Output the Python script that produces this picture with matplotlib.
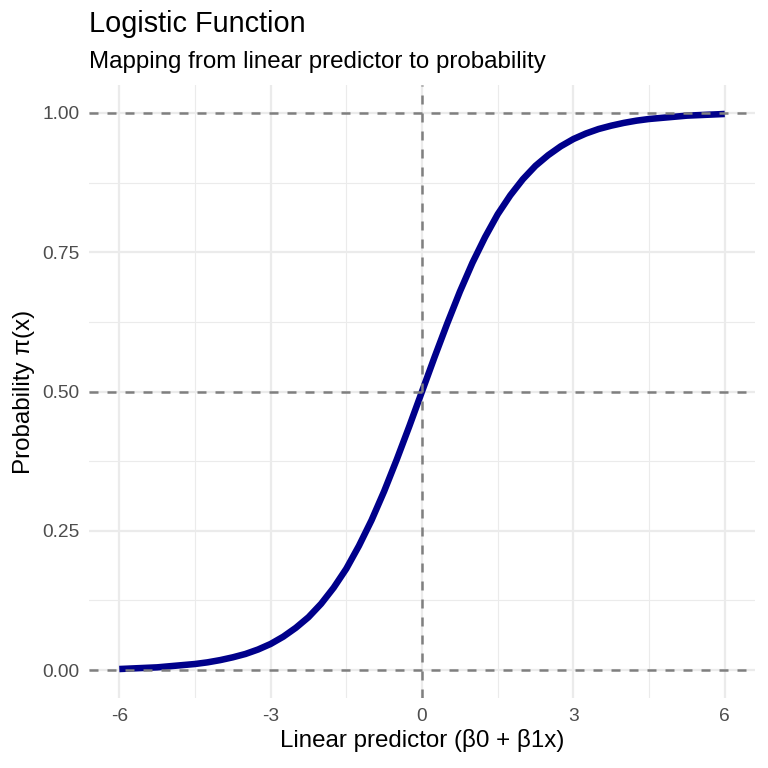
import matplotlib
matplotlib.use('Agg')
import matplotlib.pyplot as plt

# values (step 0.25)
x_vals = [-6.0, -5.75, -5.5, -5.25, -5.0, -4.75, -4.5, -4.25, -4.0, -3.75,
          -3.5, -3.25, -3.0, -2.75, -2.5, -2.25, -2.0, -1.75, -1.5, -1.25,
          -1.0, -0.75, -0.5, -0.25, 0.0, 0.25, 0.5, 0.75, 1.0, 1.25,
          1.5, 1.75, 2.0, 2.25, 2.5, 2.75, 3.0, 3.25, 3.5, 3.75,
          4.0, 4.25, 4.5, 4.75, 5.0, 5.25, 5.5, 5.75, 6.0]
prob = [0.002, 0.003, 0.004, 0.005, 0.007, 0.009, 0.011, 0.014, 0.018, 0.023,
        0.029, 0.037, 0.047, 0.060, 0.076, 0.095, 0.119, 0.148, 0.182, 0.223,
        0.269, 0.321, 0.378, 0.438, 0.500, 0.562, 0.622, 0.679, 0.731, 0.777,
        0.818, 0.852, 0.881, 0.905, 0.924, 0.940, 0.953, 0.963, 0.971, 0.977,
        0.982, 0.986, 0.989, 0.991, 0.993, 0.995, 0.996, 0.997, 0.998]

x_major = [-6, -3, 0, 3, 6]
x_minor = [-4.5, -1.5, 1.5, 4.5]
y_major = [0.0, 0.25, 0.5, 0.75, 1.0]
y_minor = [0.125, 0.375, 0.625, 0.875]
x_labels = ['-6', '-3', '0', '3', '6']
y_labels = ['0.00', '0.25', '0.50', '0.75', '1.00']
ref_h = [0.0, 0.5, 1.0]
ref_v = [0.0]

plt.rcParams['font.family'] = ['Liberation Sans', 'DejaVu Sans']

W = 768
fig = plt.figure(figsize=(7.68, 7.68), dpi=100)
ax = fig.add_axes([89 / W, (W - 698) / W, (755 - 89) / W, (698 - 85) / W])

for s in ax.spines.values():
    s.set_visible(False)

ax.set_xlim(-6.6, 6.6)
ax.set_ylim(-0.05, 1.05)

# grid (ggplot theme_minimal look)
for v in x_minor:
    ax.axvline(v, color='#ebebeb', lw=0.8, zorder=0)
for v in y_minor:
    ax.axhline(v, color='#ebebeb', lw=0.8, zorder=0)
for v in x_major:
    ax.axvline(v, color='#ebebeb', lw=1.6, zorder=0)
for v in y_major:
    ax.axhline(v, color='#ebebeb', lw=1.6, zorder=0)

ax.plot(x_vals, prob, color='#00008b', lw=4.7, solid_capstyle='butt',
        solid_joinstyle='round', zorder=2)

for v in ref_h:
    ax.axhline(v, color='#7f7f7f', lw=1.8, dashes=(3.6, 3.6), zorder=3)
for v in ref_v:
    ax.axvline(v, color='#7f7f7f', lw=1.8, dashes=(3.6, 3.6), zorder=3)

ax.set_xticks(x_major)
ax.set_xticklabels(x_labels)
ax.set_yticks(y_major)
ax.set_yticklabels(y_labels)
ax.tick_params(length=0, labelsize=13.8, labelcolor='#4d4d4d', pad=7)

ax.set_xlabel('Linear predictor (β0 + β1x)', fontsize=17.4, labelpad=3)
ax.set_ylabel('Probability π(x)', fontsize=17.4, labelpad=5)

fig.text(89 / W, 1 - 32 / W, 'Logistic Function', fontsize=20.8,
         ha='left', va='baseline')
fig.text(89 / W, 1 - 68 / W, 'Mapping from linear predictor to probability',
         fontsize=17.4, ha='left', va='baseline')

fig.savefig('out.png', dpi=100)
